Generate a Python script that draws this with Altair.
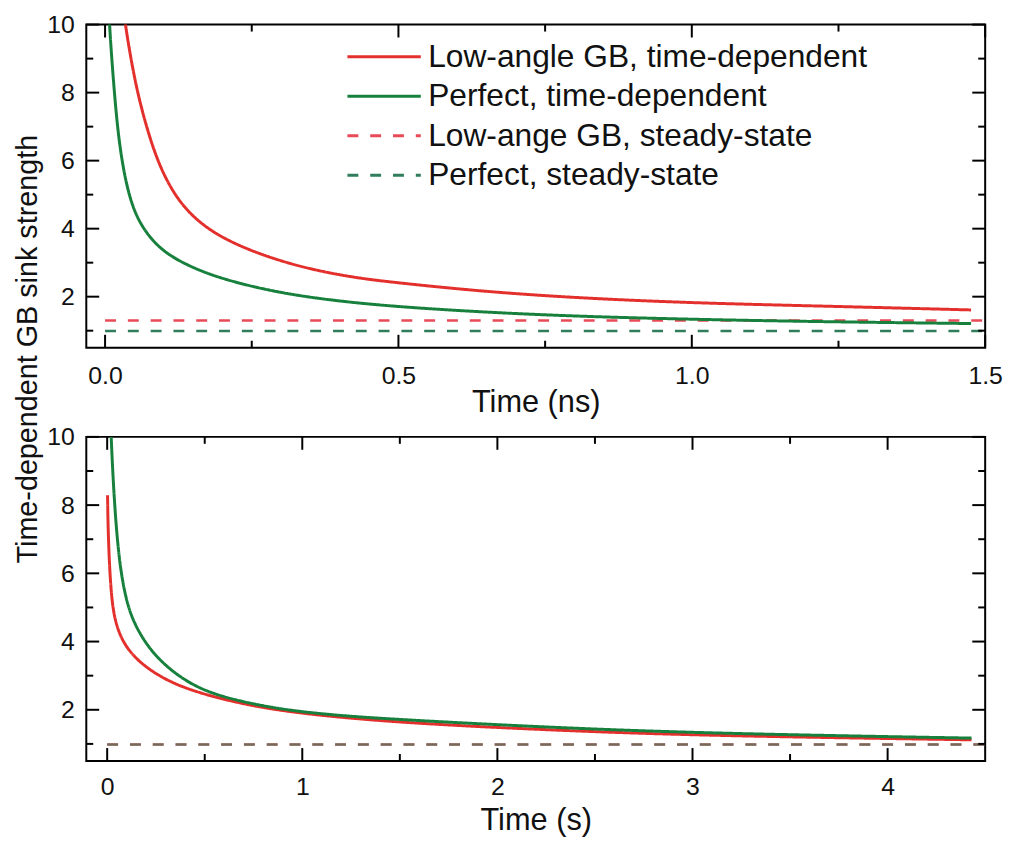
import altair as alt
import pandas as pd

FONT = "Liberation Sans"
SERIES = ["Low-angle GB, time-dependent", "Perfect, time-dependent",
          "Low-ange GB, steady-state", "Perfect, steady-state"]
COLORS = ["#e3302c", "#16803c", "#e84a57", "#2f7d5a"]
DASHES = [[1, 0], [1, 0], [11, 12], [11, 12]]

# ---------- top panel: time in ns ----------
ns_red_t = [0.030, 0.033, 0.052, 0.072, 0.089, 0.109, 0.137, 0.182, 0.249, 0.334,
            0.418, 0.475, 0.637, 0.806, 1.008, 1.233, 1.476]
ns_red_v = [10.8, 10.1, 8.19, 6.90, 6.02, 5.27, 4.55, 3.88, 3.33, 2.86,
            2.58, 2.45, 2.16, 1.96, 1.81, 1.72, 1.61]
ns_green_t = [0.006, 0.007, 0.013, 0.021, 0.030, 0.041, 0.058, 0.092, 0.137, 0.193,
              0.278, 0.362, 0.475, 0.637, 0.806, 1.008, 1.233, 1.476]
ns_green_v = [10.8, 10.1, 8.60, 6.95, 5.85, 4.95, 4.15, 3.40, 2.94, 2.55,
              2.18, 1.94, 1.73, 1.55, 1.42, 1.33, 1.26, 1.21]
ns_steady_t = [0.0, 1.5]
ns_steady_red = 1.30
ns_steady_green = 0.99

# ---------- bottom panel: time in s ----------
s_red_t = [0.002, 0.005, 0.019, 0.044, 0.103, 0.222, 0.391, 0.645, 0.898, 1.406,
           2.23, 3.06, 4.43]
s_red_v = [8.29, 7.10, 5.35, 4.45, 3.73, 3.12, 2.62, 2.23, 1.95, 1.65,
           1.41, 1.24, 1.12]
s_green_t = [0.017, 0.019, 0.036, 0.061, 0.095, 0.137, 0.222, 0.340, 0.476, 0.645,
             0.898, 1.152, 1.406, 2.23, 3.06, 4.43]
s_green_v = [10.8, 10.1, 8.10, 6.35, 5.25, 4.52, 3.72, 3.08, 2.60, 2.29,
             2.00, 1.85, 1.74, 1.49, 1.31, 1.17]
s_steady_t = [0.0, 4.5]
s_steady_red = 0.98
s_steady_green = 0.98

# ---------- axes ----------
ns_xdomain = [-0.032, 1.5]
s_xdomain = [-0.107, 4.5]
ydomain = [0.5, 10]
ns_x_major = [0.0, 0.5, 1.0, 1.5]
ns_x_minor = [0.25, 0.75, 1.25]
s_x_major = [0, 1, 2, 3, 4]
s_x_minor = [0.5, 1.5, 2.5, 3.5]
y_major = [2, 4, 6, 8, 10]
y_minor = [1, 3, 5, 7, 9]

W = 907
MAJ = 13
MIN = 7
TICK_FS = 25


def df_series(t, v, name):
    return pd.DataFrame({"t": t, "v": v, "series": name})


# long horizontal legend glyph (custom path so rows stay compact)
legend = alt.Legend(title=None, orient="none", legendX=284, legendY=16,
                    symbolType="M-2.467,0L2.467,0", symbolSize=900, symbolStrokeWidth=3,
                    labelFontSize=32, labelFont=FONT, labelColor="#111111",
                    rowPadding=6.8, labelOffset=28, padding=0, labelLimit=0)


def panel(curves, steady_red, steady_green, xdom, xmaj, xmin, xfmt, xtitle,
          H, show_legend, show_ytitle, green_steady_opacity, label_pad, title_y):
    xs = alt.Scale(domain=xdom, nice=False, zero=False)
    ys = alt.Scale(domain=ydomain, nice=False, zero=False)
    leg = legend if show_legend else None
    color = alt.Color("series:N", scale=alt.Scale(domain=SERIES, range=COLORS), legend=leg)
    dash = alt.StrokeDash("series:N", scale=alt.Scale(domain=SERIES, range=DASHES), legend=leg)

    yaxis_kw = dict(values=y_major, ticks=False, domain=False, grid=False,
                    labelFontSize=TICK_FS, labelFont=FONT, labelColor="#111111",
                    labelPadding=12)
    if show_ytitle:
        yaxis_kw.update(title="Time-dependent GB sink strength", titleFontSize=29,
                        titleFont=FONT, titleFontWeight="normal", titleColor="#111111",
                        titleAngle=270, titleAlign="center", titleBaseline="alphabetic",
                        titleX=-50, titleY=327)
    else:
        yaxis_kw.update(title=None)
    yaxis = alt.Axis(**yaxis_kw)
    xaxis = alt.Axis(values=xmaj, format=xfmt, title=xtitle, ticks=False, domain=False,
                     grid=False, labelFontSize=TICK_FS, labelFont=FONT, labelColor="#111111",
                     labelPadding=label_pad, labelFlush=False, labelOverlap=False,
                     titleFontSize=31, titleFont=FONT, titleFontWeight="normal",
                     titleColor="#111111", titleY=title_y, titleBaseline="top")
    X = alt.X("t:Q", scale=xs, axis=xaxis)
    Y = alt.Y("v:Q", scale=ys, axis=yaxis)

    red_st = alt.Chart(pd.concat(steady_red)).mark_line(strokeWidth=2.5, clip=True).encode(
        x=X, y=Y, color=color, strokeDash=dash)
    green_st = alt.Chart(pd.concat(steady_green)).mark_line(
        strokeWidth=2.5, clip=True, opacity=green_steady_opacity).encode(
        x=X, y=Y, color=color, strokeDash=dash)
    lines = alt.Chart(pd.concat(curves, ignore_index=True)).mark_line(
        strokeWidth=3, clip=True, interpolate="basis").encode(
        x=X, y=Y, color=color, strokeDash=dash)

    layers = [red_st, green_st, lines]
    for vals, L in ((xmaj, MAJ), (xmin, MIN)):
        d = pd.DataFrame({"t": vals})
        layers.append(alt.Chart(d).mark_rule(color="black", strokeWidth=2).encode(
            x=X, y=alt.value(H), y2=alt.value(H - L)))
        layers.append(alt.Chart(d).mark_rule(color="black", strokeWidth=2).encode(
            x=X, y=alt.value(0), y2=alt.value(L)))
    for vals, L in ((y_major, MAJ), (y_minor, MIN)):
        d = pd.DataFrame({"v": vals})
        layers.append(alt.Chart(d).mark_rule(color="black", strokeWidth=2).encode(
            y=Y, x=alt.value(0), x2=alt.value(L)))
        layers.append(alt.Chart(d).mark_rule(color="black", strokeWidth=2).encode(
            y=Y, x=alt.value(W), x2=alt.value(W - L)))
    return alt.layer(*layers).properties(width=W, height=H)


top = panel(
    [df_series(ns_red_t, ns_red_v, SERIES[0]), df_series(ns_green_t, ns_green_v, SERIES[1])],
    [df_series(ns_steady_t, [ns_steady_red] * 2, SERIES[2])],
    [df_series(ns_steady_t, [ns_steady_green] * 2, SERIES[3])],
    ns_xdomain, ns_x_major, ns_x_minor, ".1f", "Time (ns)", 326, True, True, 1.0, 16, 40)

bottom = panel(
    [df_series(s_red_t, s_red_v, SERIES[0]), df_series(s_green_t, s_green_v, SERIES[1])],
    [df_series(s_steady_t, [s_steady_red] * 2, SERIES[2])],
    [df_series(s_steady_t, [s_steady_green] * 2, SERIES[3])],
    s_xdomain, s_x_major, s_x_minor, "d", "Time (s)", 327, False, False, 0.62, 14, 45)

chart = alt.vconcat(top, bottom, spacing=90, bounds="flush").resolve_legend(
    color="independent", strokeDash="independent"
).properties(
    padding={"left": 4, "top": 0, "right": 0, "bottom": 0},
    background="white",
).configure_view(stroke="black", strokeWidth=2)

chart.save("out.html", embed_options={"renderer": "svg", "actions": False})
